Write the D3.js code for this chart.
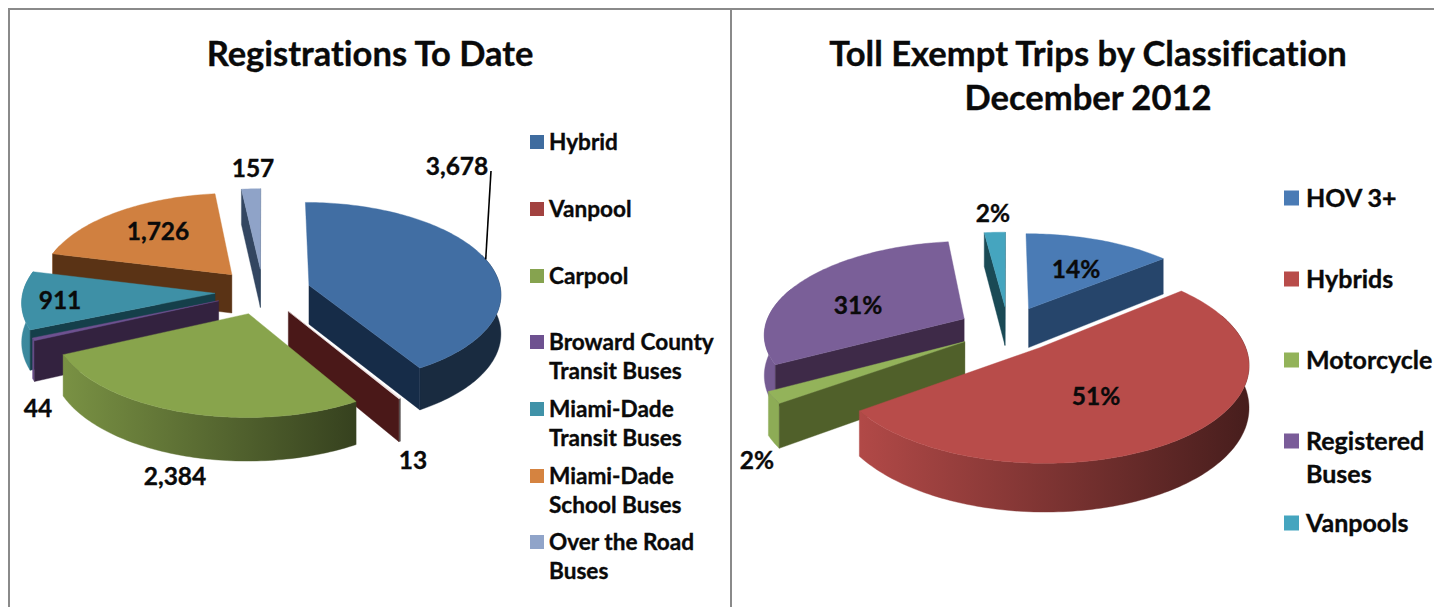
<!DOCTYPE html>
<html><head><meta charset="utf-8">
<script src="https://cdn.jsdelivr.net/npm/d3@7"></script>
<style>html,body{margin:0;padding:0;background:#fff;overflow:hidden}svg{display:block}text{font-family:Lato,"Open Sans",sans-serif;font-weight:700;fill:#0a0a0a;stroke:#0a0a0a;stroke-width:.35px;font-variant-ligatures:none}</style>
</head><body><svg id="c" width="1434" height="607"></svg>
<script>
// ---- data ----
const regCategories = [["Hybrid"],["Vanpool"],["Carpool"],["Broward County","Transit Buses"],["Miami-Dade","Transit Buses"],["Miami-Dade","School Buses"],["Over the Road","Buses"]];
const regValues = [3678,13,2384,44,911,1726,157];
const regTop = ["#416ea3","#efe2e2","#88a44c","#6e5190","#3e90a6","#d08040","#8fa3c8"];
const regWall = ["#162c48","#4a1818","#4a5a22","#33223f","#153f4a","#5a3315","#334661"];
const regLegend = ["#3f6c9f","#a24240","#86a34f","#6e5190","#4092a8","#d58340","#90a4c9"];

const tripCategories = [["HOV 3+"],["Hybrids"],["Motorcycle"],["Registered","Buses"],["Vanpools"]];
const tripValues = [14,51,2,31,2];
const tripTop = ["#4a7bb5","#b84c4a","#93b35a","#7a5f98","#45a5bf"];
const tripWall = ["#26456b","#4a1a1a","#50602a","#3e2a48","#1a4a55"];
const tripLegend = ["#4a7bb5","#b84c4a","#93b35a","#7a5c99","#45a5bf"];

// ---- layout (separate from the data) ----
const regLayout = {cx:263,cy:291.5,rx:192,ry:91,p:.085,explode:.25,depth:39,gradX:[20,360],
  labels:[[457,165],[413,459],[175,475],[38,407],[60,299],[158,230],[253,167]],
  titleLines:["Registrations To Date"],titleX:370,titleY:[66],titleSize:34.5,
  legendSwatchX:530,swatch:14,legendTextX:549,legendSize:22.6,lineGap:29,
  legendY:[141,208,275,341,408,475,541]};
const tripLayout = {cx:1008,cy:329,rx:200,ry:92,p:.15,explode:.25,depth:40,gradX:[860,1245],
  labels:[[1076,268],[1096,395],[757,459],[858,304],[993,212]],
  titleLines:["Toll Exempt Trips by Classification","December 2012"],titleX:1088,titleY:[66,110],titleSize:34.6,
  legendSwatchX:1284,swatch:15,legendTextX:1306,legendSize:25,lineGap:33,
  legendY:[197,278,359,440,522]};

const svg = d3.select("#c");
const defs = svg.append("defs");
const line = d3.line();
const frame = "#8a8a8a";
svg.append("path").attr("d","M9,607V9H1434M731,9V607").attr("fill","none").attr("stroke",frame).attr("stroke-width",2);

function shade(c,f){const r=d3.rgb(c);return d3.rgb(r.r*f,r.g*f,r.b*f).formatHex();}

function drawPie(id,values,tops,walls,cfg){
  const g = svg.append("g").attr("id",id);
  const arcs = d3.pie().sort(null).startAngle(0).endAngle(2*Math.PI)(values);
  const proj = (X,Y,z)=>{const w=1/(1-cfg.p*Y);return [cfg.cx+cfg.rx*X*w, cfg.cy+(cfg.ry*Y+z*cfg.depth)*w];};
  const slices = arcs.map((a,i)=>{
    const mid=(a.startAngle+a.endAngle)/2;
    const ex=cfg.explode*Math.sin(mid), ey=-cfg.explode*Math.cos(mid);
    return {a,i,mid,ex,ey,
      rim:(t,z)=>proj(ex+Math.sin(t),ey-Math.cos(t),z),
      apex:z=>proj(ex,ey,z)};
  });
  const order = slices.slice().sort((s,t)=>(-Math.cos(s.mid))-(-Math.cos(t.mid)));
  order.forEach(s=>{
    const n=Math.max(2,Math.ceil((s.a.endAngle-s.a.startAngle)/0.02));
    const ts=d3.range(n+1).map(k=>s.a.startAngle+(s.a.endAngle-s.a.startAngle)*k/n);
    const gid=id+"g"+s.i, col=tops[s.i], wall=walls[s.i];
    const lg=defs.append("linearGradient").attr("id",gid).attr("gradientUnits","userSpaceOnUse")
      .attr("x1",cfg.gradX[0]).attr("x2",cfg.gradX[1]).attr("y1",0).attr("y2",0);
    lg.append("stop").attr("offset",0).attr("stop-color",shade(col,.96));
    lg.append("stop").attr("offset",1).attr("stop-color",shade(col,.39));
    const sl=g.append("g");
    const poly=(pts,fill)=>sl.append("path").attr("d",line(pts)+"Z").attr("fill",fill).attr("stroke",fill).attr("stroke-width",.4);
    // outer wall: only the part of the rim on the viewer's side
    const front=ts.filter(t=>Math.cos(t)<.35);
    if(front.length>1) poly(front.map(t=>s.rim(t,0)).concat(front.slice().reverse().map(t=>s.rim(t,1))),`url(#${gid})`);
    // radial walls: only those that face the viewer
    if(Math.sin(s.a.startAngle)<0) poly([s.apex(0),s.rim(s.a.startAngle,0),s.rim(s.a.startAngle,1),s.apex(1)],wall);
    if(Math.sin(s.a.endAngle)>0) poly([s.apex(0),s.rim(s.a.endAngle,0),s.rim(s.a.endAngle,1),s.apex(1)],wall);
    // top face
    poly([s.apex(0)].concat(ts.map(t=>s.rim(t,0))),col);
  });
  return slices;
}

function decorate(values,fmt,cats,legendCols,cfg){
  cfg.labels.forEach((p,i)=>svg.append("text").attr("x",p[0]).attr("y",p[1]).attr("text-anchor","middle")
     .attr("dominant-baseline","central").attr("font-size",24.5).text(fmt(values[i])));
  cfg.titleLines.forEach((t,i)=>svg.append("text").attr("x",cfg.titleX).attr("y",cfg.titleY[i]).attr("text-anchor","middle")
     .attr("font-size",cfg.titleSize).text(t));
  cats.forEach((lines,i)=>{
    const y=cfg.legendY[i];
    svg.append("rect").attr("x",cfg.legendSwatchX).attr("y",y+1-cfg.swatch/2).attr("width",cfg.swatch).attr("height",cfg.swatch).attr("fill",legendCols[i]);
    lines.forEach((t,j)=>svg.append("text").attr("x",cfg.legendTextX).attr("y",y+j*cfg.lineGap).attr("dominant-baseline","central")
      .attr("font-size",cfg.legendSize).text(t));
  });
}

const reg = drawPie("reg",regValues,regTop,regWall,regLayout);
drawPie("trip",tripValues,tripTop,tripWall,tripLayout);
decorate(regValues,d3.format(","),regCategories,regLegend,regLayout);
decorate(tripValues,d=>d+"%",tripCategories,tripLegend,tripLayout);

// leader line from the 3,678 label to the Hybrid slice rim
const h=reg[0], tip=h.rim(h.a.startAngle+(h.a.endAngle-h.a.startAngle)*.49,0);
svg.append("path").attr("d",line([[regLayout.labels[0][0]+34,regLayout.labels[0][1]+6],tip])).attr("stroke","#000").attr("stroke-width",1.6).attr("fill","none");
</script></body></html>
